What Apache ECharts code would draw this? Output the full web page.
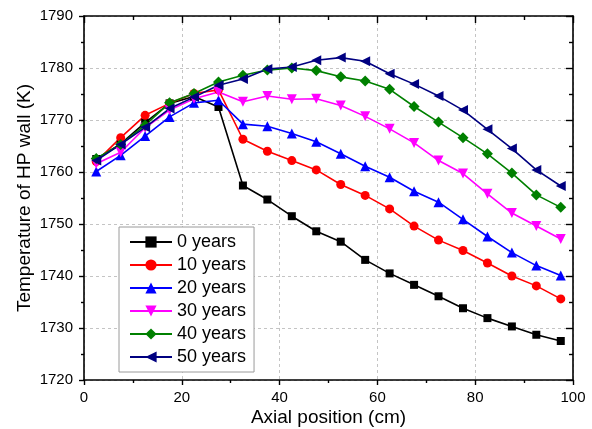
<!DOCTYPE html>
<html>
<head>
<meta charset="utf-8">
<script src="https://cdn.jsdelivr.net/npm/echarts@6/dist/echarts.min.js"></script>
<style>
  html, body { margin: 0; padding: 0; background: #ffffff; }
  #chart { width: 592px; height: 429px; }
</style>
</head>
<body>
<div id="chart"></div>
<script>
// Axial positions of the sampled points (cm)
const positions = [2.5, 7.5, 12.5, 17.5, 22.5, 27.5, 32.5, 37.5, 42.5, 47.5,
                   52.5, 57.5, 62.5, 67.5, 72.5, 77.5, 82.5, 87.5, 92.5, 97.5];

// HP wall temperature (K) after each operating period
const years0  = [1762.5, 1765.4, 1769.5, 1773.2, 1774.5, 1772.5, 1757.4, 1754.7, 1751.5, 1748.6,
                 1746.6, 1743.1, 1740.5, 1738.3, 1736.1, 1733.8, 1731.9, 1730.3, 1728.7, 1727.5];
const years10 = [1762.0, 1766.6, 1770.9, 1773.2, 1775.1, 1775.8, 1766.3, 1764.0, 1762.2, 1760.4,
                 1757.6, 1755.5, 1752.9, 1749.6, 1746.9, 1744.9, 1742.5, 1740.0, 1738.1, 1735.6];
const years20 = [1760.1, 1763.2, 1766.9, 1770.6, 1773.3, 1773.8, 1769.2, 1768.8, 1767.4, 1765.8,
                 1763.5, 1761.1, 1759.0, 1756.3, 1754.2, 1750.9, 1747.6, 1744.5, 1742.0, 1740.1];
const years30 = [1761.6, 1763.8, 1768.5, 1771.9, 1774.1, 1775.4, 1773.5, 1774.6, 1774.0, 1774.1,
                 1772.8, 1770.7, 1768.3, 1765.6, 1762.2, 1759.7, 1755.8, 1752.1, 1749.6, 1747.1];
const years40 = [1762.6, 1765.3, 1769.0, 1773.3, 1775.1, 1777.3, 1778.6, 1779.6, 1780.0, 1779.5,
                 1778.3, 1777.5, 1775.9, 1772.6, 1769.6, 1766.6, 1763.5, 1759.8, 1755.6, 1753.2];
const years50 = [1762.2, 1765.3, 1768.6, 1772.2, 1774.4, 1776.7, 1777.9, 1779.8, 1780.2, 1781.5,
                 1782.0, 1781.3, 1778.9, 1776.9, 1774.6, 1771.9, 1768.2, 1764.5, 1760.4, 1757.3];

const seriesNames = ['0 years', '10 years', '20 years', '30 years', '40 years', '50 years'];

const FONT = '"Liberation Sans", Arial, sans-serif';

const styles = [
  { color: '#000000', symbol: 'rect',     size: 8,  rotate: 0 },
  { color: '#ff0000', symbol: 'circle',   size: 9,  rotate: 0 },
  { color: '#0000ff', symbol: 'triangle', size: 10, rotate: 0 },
  { color: '#ff00ff', symbol: 'triangle', size: 10, rotate: 180 },
  { color: '#008000', symbol: 'diamond',  size: 11, rotate: 0 },
  { color: '#000080', symbol: 'triangle', size: 10, rotate: 90 }
];

const values = [years0, years10, years20, years30, years40, years50];

const series = values.map((vals, i) => ({
  name: seriesNames[i],
  type: 'line',
  data: positions.map((x, j) => [x, vals[j]]),
  symbol: styles[i].symbol,
  symbolSize: styles[i].size,
  symbolRotate: styles[i].rotate,
  showAllSymbol: true,
  lineStyle: { color: styles[i].color, width: 1.6 },
  itemStyle: { color: styles[i].color },
  emphasis: { disabled: true },
  animation: false
}));

const chart = echarts.init(document.getElementById('chart'), null, { renderer: 'canvas' });

const axisLine = { show: true, onZero: false, lineStyle: { color: '#000', width: 1.6 } };
const splitLine = { show: true, lineStyle: { color: '#c4c4c4', width: 1, type: [3, 3] } };
const plain = v => String(v);

chart.setOption({
  animation: false,
  backgroundColor: '#ffffff',
  grid: { left: 84, right: 19, top: 16, bottom: 49, containLabel: false, outerBoundsMode: 'none' },
  legend: {
    orient: 'vertical',
    left: 119,
    top: 227,
    itemWidth: 42,
    itemHeight: 14,
    itemGap: 5,
    padding: [6, 8, 6, 10],
    backgroundColor: '#ffffff',
    borderColor: '#9a9a9a',
    borderWidth: 1,
    textStyle: { fontFamily: FONT, fontSize: 18, color: '#000' },
    data: seriesNames
  },
  xAxis: [
    {
      type: 'value', position: 'bottom', min: 0, max: 100, interval: 20,
      name: 'Axial position (cm)', nameLocation: 'middle', nameGap: 28,
      nameMoveOverlap: false,
      nameTextStyle: { fontFamily: FONT, fontSize: 19, color: '#000' },
      axisLine: axisLine,
      axisTick: { show: true, inside: false, length: 5, lineStyle: { color: '#000', width: 1.4 } },
      minorTick: { show: true, splitNumber: 2, length: 3, lineStyle: { color: '#000', width: 1.4 } },
      axisLabel: { fontFamily: FONT, fontSize: 15, color: '#000', margin: 10, formatter: plain },
      splitLine: splitLine
    },
    {
      type: 'value', position: 'top', min: 0, max: 100, interval: 20,
      axisLine: axisLine,
      axisTick: { show: true, inside: true, length: 7, lineStyle: { color: '#000', width: 1.4 } },
      minorTick: { show: true, splitNumber: 2, length: 4, lineStyle: { color: '#000', width: 1.4 } },
      axisLabel: { show: false },
      splitLine: { show: false }
    }
  ],
  yAxis: [
    {
      type: 'value', position: 'left', min: 1720, max: 1790, interval: 10,
      name: 'Temperature of HP wall (K)', nameLocation: 'middle', nameGap: 50,
      nameMoveOverlap: false,
      nameTextStyle: { fontFamily: FONT, fontSize: 19, color: '#000' },
      axisLine: axisLine,
      axisTick: { show: true, inside: false, length: 5, lineStyle: { color: '#000', width: 1.4 } },
      minorTick: { show: true, splitNumber: 2, length: 3, lineStyle: { color: '#000', width: 1.4 } },
      axisLabel: { fontFamily: FONT, fontSize: 15, color: '#000', margin: 11, formatter: plain },
      splitLine: splitLine
    },
    {
      type: 'value', position: 'right', min: 1720, max: 1790, interval: 10,
      axisLine: axisLine,
      axisTick: { show: true, inside: true, length: 7, lineStyle: { color: '#000', width: 1.4 } },
      minorTick: { show: true, splitNumber: 2, length: 4, lineStyle: { color: '#000', width: 1.4 } },
      axisLabel: { show: false },
      splitLine: { show: false }
    }
  ],
  series: series
});
</script>
</body>
</html>
